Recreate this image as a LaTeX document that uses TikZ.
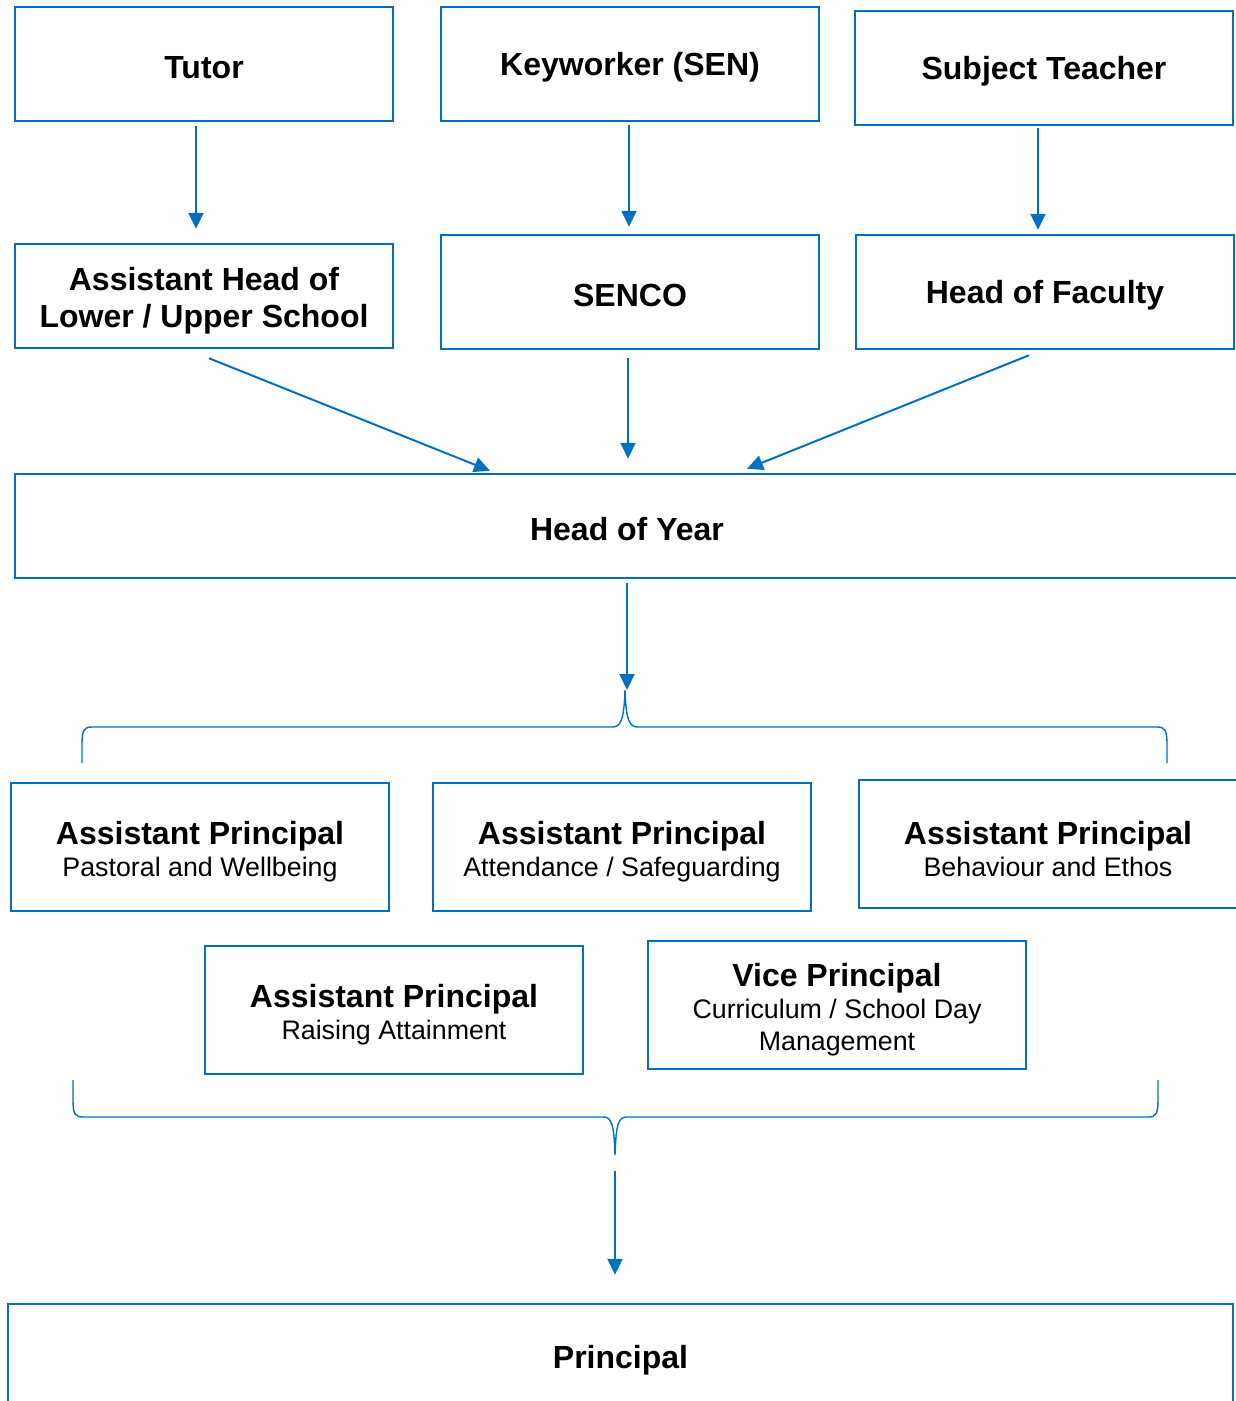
\documentclass[tikz,border=0pt]{standalone}
\usepackage{fontspec}
\setmainfont{Liberation Sans}
\usetikzlibrary{arrows.meta}
\definecolor{orgblue}{HTML}{0070C0}
\newcommand{\toprule}{\rule{0pt}{33pt}}
\newcommand{\aptitle}[1]{{\fontsize{32}{33}\selectfont\bfseries\toprule#1}}

\begin{document}
\begin{tikzpicture}[x=1pt,y=-1pt,
  box/.style={draw=orgblue,line width=2.5pt,minimum width=378pt,minimum height=114pt,
    align=center,font=\fontsize{32}{37}\selectfont\bfseries,
    execute at begin node={\rule{0pt}{29pt}}},
  apbox/.style={box,minimum height=128pt,font=\fontsize{26.8}{32}\selectfont},
  arr/.style={draw=orgblue,line width=2pt,-{Triangle[width=15pt,length=16pt]},orgblue},
  brace/.style={draw=orgblue,line width=1.4pt}]
  \useasboundingbox (0,0) rectangle (1236,1401);
  % top row
  \node[box] (tutor) at (204,64) {Tutor};
  \node[box] (keyw) at (630,64) {Keyworker (SEN)};
  \node[box] (subj) at (1044,68) {Subject Teacher};
  % second row
  \node[box,minimum height=104pt] (ahead) at (204,296) {\toprule Assistant Head of\\Lower / Upper School};
  \node[box] (senco) at (630,292) {SENCO};
  \node[box] (hof) at (1045,292) {Head of Faculty};
  \node[box,minimum width=1224pt,minimum height=104pt] (hoy) at (627,526) {Head of Year};
  \draw[arr,shorten <=4pt,shorten >=14pt] (tutor.south -| 196,0) -- (ahead.north -| 196,0);
  \draw[arr,shorten <=3pt,shorten >=7pt] (keyw.south -| 629,0) -- (senco.north -| 629,0);
  \draw[arr,shorten <=2pt,shorten >=4pt] (subj.south -| 1038,0) -- (hof.north -| 1038,0);
  \draw[arr] ([shift={(5,9)}]ahead.south) -- ([shift={(-137,-2)}]hoy.north);
  \draw[arr,shorten <=8pt,shorten >=14pt] (senco.south -| 628,0) -- (hoy.north -| 628,0);
  \draw[arr] ([shift={(-16,5)}]hof.south) -- ([shift={(120,-4)}]hoy.north);
  % upper brace
  \coordinate (tip1) at (625,690);
  \draw[arr,shorten <=4pt] (hoy.south) -- (hoy.south |- tip1);
  \draw[brace] (82,763) -- (82,745) .. controls (82,730) and (84,727) .. (92,727)
    -- (612,727) .. controls (620,727) and (624,722) .. (tip1)
    .. controls (626,722) and (630,727) .. (638,727) -- (1157,727)
    .. controls (1165,727) and (1167,730) .. (1167,745) -- (1167,763);
  % principals
  \node[apbox] (appw) at (200,847) {\aptitle{Assistant Principal}\\Pastoral and Wellbeing};
  \node[apbox] (apas) at (622,847) {\aptitle{Assistant Principal}\\Attendance / Safeguarding};
  \node[apbox] (apbe) at (1048,844) {\aptitle{Assistant Principal}\\Behaviour and Ethos};
  \node[apbox] (apra) at (394,1010) {\aptitle{Assistant Principal}\\Raising Attainment};
  \node[apbox] (vp) at (837,1005) {\aptitle{Vice Principal}\\Curriculum / School Day\\Management};
  % lower brace
  \coordinate (tip2) at (615,1155);
  \draw[brace] (73,1080) -- (73,1100) .. controls (73,1114) and (75,1117) .. (83,1117)
    -- (603,1117) .. controls (611,1117) and (614,1122) .. (tip2)
    .. controls (616,1122) and (619,1117) .. (627,1117) -- (1148,1117)
    .. controls (1156,1117) and (1158,1114) .. (1158,1100) -- (1158,1080);
  \node[box,minimum width=1225pt,minimum height=106pt] (princ) at (620.5,1357) {Principal};
  \draw[arr,shorten <=16pt,shorten >=28pt] (tip2) -- (princ.north -| tip2);
\end{tikzpicture}
\end{document}
